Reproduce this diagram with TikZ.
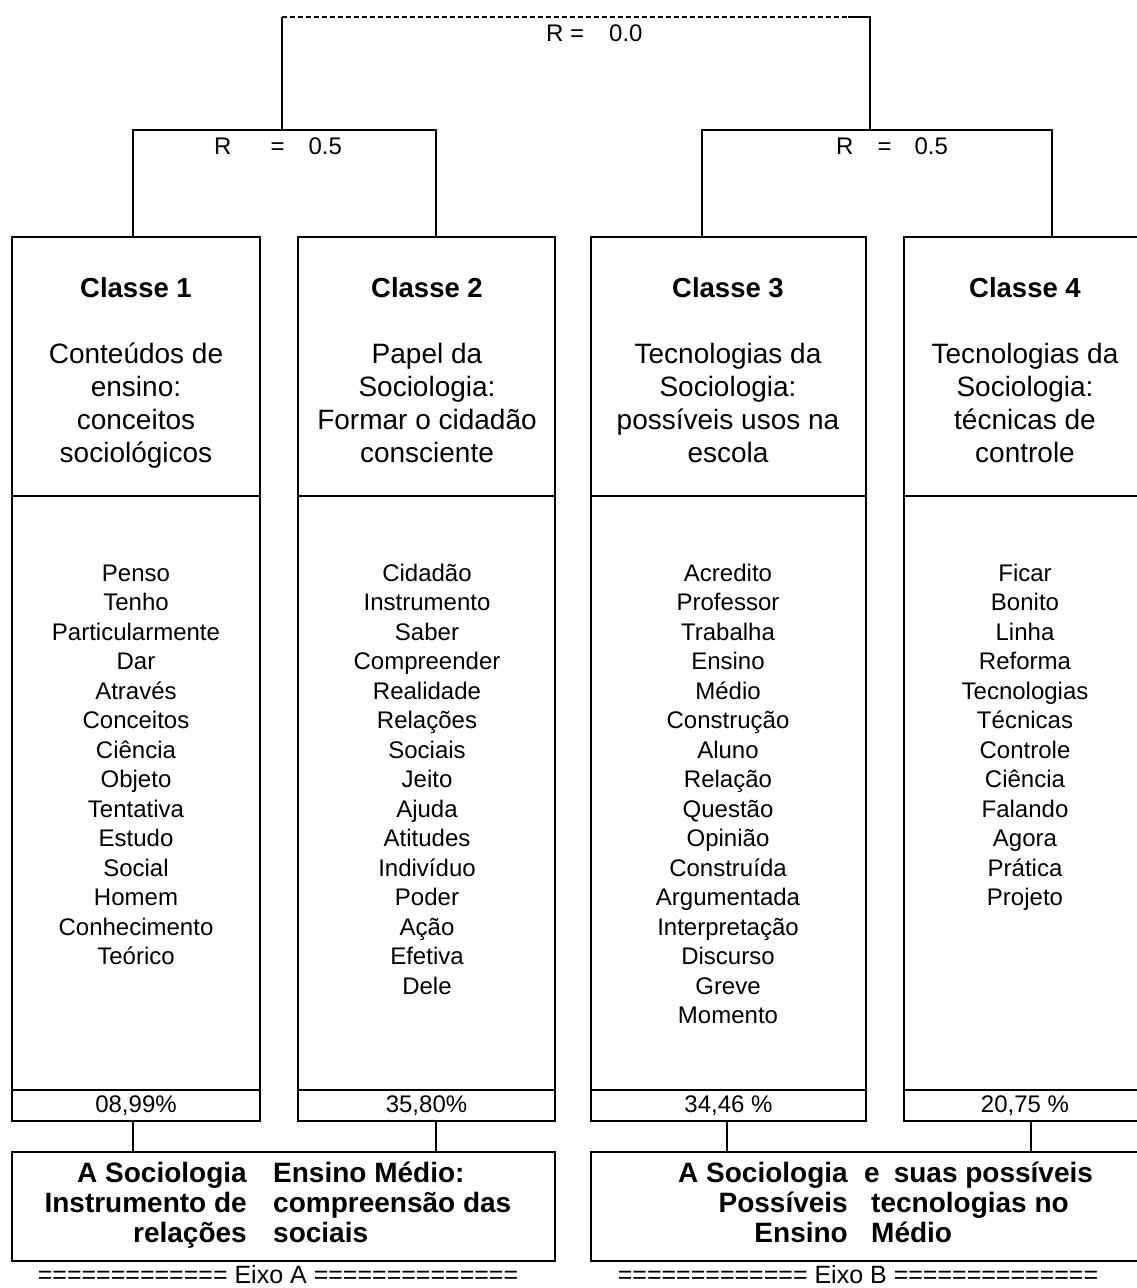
\documentclass[tikz,border=0pt]{standalone}
\usepackage{fontspec}
\setmainfont{Liberation Sans}
\begin{document}
\begin{tikzpicture}[x=1pt,y=-1pt,
  frame/.style={draw, line width=2pt, inner sep=0pt, outer sep=0pt, anchor=north west},
  link/.style={line width=2pt},
  word/.style={font=\fontsize{24}{29.5}\selectfont, anchor=base, inner sep=0pt},
  heading/.style={font=\fontsize{27.5}{33}\selectfont\bfseries, anchor=base, inner sep=0pt},
  subtitle/.style={font=\fontsize{28}{33}\selectfont, anchor=base, inner sep=0pt},
  pct/.style={frame, font=\fontsize{24}{29}\selectfont},
  rlabel/.style={font=\fontsize{24}{29}\selectfont, anchor=base west, inner sep=0pt},
  axisL/.style={font=\fontsize{28}{30}\selectfont\bfseries, anchor=base east, inner sep=0pt},
  axisR/.style={font=\fontsize{28}{30}\selectfont\bfseries, anchor=base west, inner sep=0pt},
  eixo/.style={font=\fontsize{25}{30}\selectfont, anchor=base, inner sep=0pt}
]
\useasboundingbox[fill=white] (0,0) rectangle (1136,1288);

% class boxes: heading part, word list part, percentage row
\node[frame, minimum width=248, minimum height=259] (c1head) at (12,237) {};
\node[frame, minimum width=248, minimum height=594] (c1body) at (12,496) {};
\node[pct, minimum width=248, minimum height=31] (c1pct) at (12,1090) {08,99\%};

\node[frame, minimum width=257, minimum height=259] (c2head) at (298,237) {};
\node[frame, minimum width=257, minimum height=594] (c2body) at (298,496) {};
\node[pct, minimum width=257, minimum height=31] (c2pct) at (298,1090) {35,80\%};

\node[frame, minimum width=275, minimum height=259] (c3head) at (591,237) {};
\node[frame, minimum width=275, minimum height=594] (c3body) at (591,496) {};
\node[pct, minimum width=275, minimum height=31] (c3pct) at (591,1090) {34,46 \%};

\node[frame, minimum width=242, minimum height=259] (c4head) at (904,237) {};
\node[frame, minimum width=242, minimum height=594] (c4body) at (904,496) {};
\node[pct, minimum width=242, minimum height=31] (c4pct) at (904,1090) {20,75 \%};

% axis boxes
\node[frame, minimum width=543, minimum height=109] (axA) at (12,1152) {};
\node[frame, minimum width=555, minimum height=109] (axB) at (591,1152) {};

% headings
\node[heading] (h1) at (136,297) {Classe 1};
\node[heading] (h2) at (427,297) {Classe 2};
\node[heading] (h3) at (728,297) {Classe 3};
\node[heading] (h4) at (1025,297) {Classe 4};

% subtitles
\foreach \t [count=\i] in {Conteúdos de, ensino:, conceitos, sociológicos}
  \node[subtitle] (s1l\i) at (136,{363+33*(\i-1)}) {\t};
\foreach \t [count=\i] in {Papel da, Sociologia:, Formar o cidadão, consciente}
  \node[subtitle] (s2l\i) at (427,{363+33*(\i-1)}) {\t};
\foreach \t [count=\i] in {Tecnologias da, Sociologia:, possíveis usos na, escola}
  \node[subtitle] (s3l\i) at (728,{363+33*(\i-1)}) {\t};
\foreach \t [count=\i] in {Tecnologias da, Sociologia:, técnicas de, controle}
  \node[subtitle] (s4l\i) at (1025,{363+33*(\i-1)}) {\t};

% word lists
\foreach \w [count=\i] in {Penso, Tenho, Particularmente, Dar, Através, Conceitos, Ciência,
    Objeto, Tentativa, Estudo, Social, Homem, Conhecimento, Teórico}
  \node[word] (w1n\i) at (136,{581+29.5*(\i-1)}) {\w};
\foreach \w [count=\i] in {Cidadão, Instrumento, Saber, Compreender, Realidade, Relações,
    Sociais, Jeito, Ajuda, Atitudes, Indivíduo, Poder, Ação, Efetiva, Dele}
  \node[word] (w2n\i) at (427,{581+29.5*(\i-1)}) {\w};
\foreach \w [count=\i] in {Acredito, Professor, Trabalha, Ensino, Médio, Construção, Aluno,
    Relação, Questão, Opinião, Construída, Argumentada, Interpretação, Discurso, Greve, Momento}
  \node[word] (w3n\i) at (728,{581+29.5*(\i-1)}) {\w};
\foreach \w [count=\i] in {Ficar, Bonito, Linha, Reforma, Tecnologias, Técnicas, Controle,
    Ciência, Falando, Agora, Prática, Projeto}
  \node[word] (w4n\i) at (1025,{581+29.5*(\i-1)}) {\w};

% axis texts, two columns each
\node[axisL] (aL1) at (247,1182) {A Sociologia};
\node[axisL] (aL2) at (247,1212) {Instrumento de};
\node[axisL] (aL3) at (247,1242) {relações};
\node[axisR] (aR1) at (273,1182) {Ensino Médio:};
\node[axisR] (aR2) at (273,1212) {compreensão das};
\node[axisR] (aR3) at (273,1242) {sociais};

\node[axisL] (bL1) at (848,1182) {A Sociologia};
\node[axisL] (bL2) at (848,1212) {Possíveis};
\node[axisL] (bL3) at (848,1242) {Ensino};
\node[axisR] (bR1) at (864,1182) {e\hspace{14pt}suas possíveis};
\node[axisR] (bR2) at (871,1212) {tecnologias no};
\node[axisR] (bR3) at (871,1242) {Médio};

\node[eixo] (eA) at (278,1283) {============= Eixo A ==============};
\node[eixo] (eB) at (858,1283) {============= Eixo B ==============};

% dendrogram joints
\coordinate (lA) at (133,130);
\coordinate (lB) at (436,130);
\coordinate (rA) at (702,130);
\coordinate (rB) at (1052,130);
\coordinate (tL) at (282,17);
\coordinate (tD) at (848,17);
\coordinate (tR) at (870,17);

\draw[link] (c1head.north -| lA) -- (lA) -- (lB) -- (c2head.north -| lB);
\draw[link] (c3head.north -| rA) -- (rA) -- (rB) -- (c4head.north -| rB);
\draw[link] (lA -| tL) -- (tL);
\draw[link, dash pattern=on 5pt off 3pt] (tL) -- (tD);
\draw[link] (tD) -- (tR) -- (rA -| tR);

\node[rlabel] (r0) at (546,41) {R =\hspace{25pt}0.0};
\node[rlabel] (r1) at (214,154) {R\hspace{39pt}=\hspace{24pt}0.5};
\node[rlabel] (r2) at (836,154) {R\hspace{24pt}=\hspace{23pt}0.5};

% links from the classes down to the axes
\coordinate (k1) at (133,0);
\coordinate (k2) at (436,0);
\coordinate (k3) at (727,0);
\coordinate (k4) at (1031,0);
\draw[link] (c1pct.south -| k1) -- (axA.north -| k1);
\draw[link] (c2pct.south -| k2) -- (axA.north -| k2);
\draw[link] (c3pct.south -| k3) -- (axB.north -| k3);
\draw[link] (c4pct.south -| k4) -- (axB.north -| k4);
\end{tikzpicture}
\end{document}
